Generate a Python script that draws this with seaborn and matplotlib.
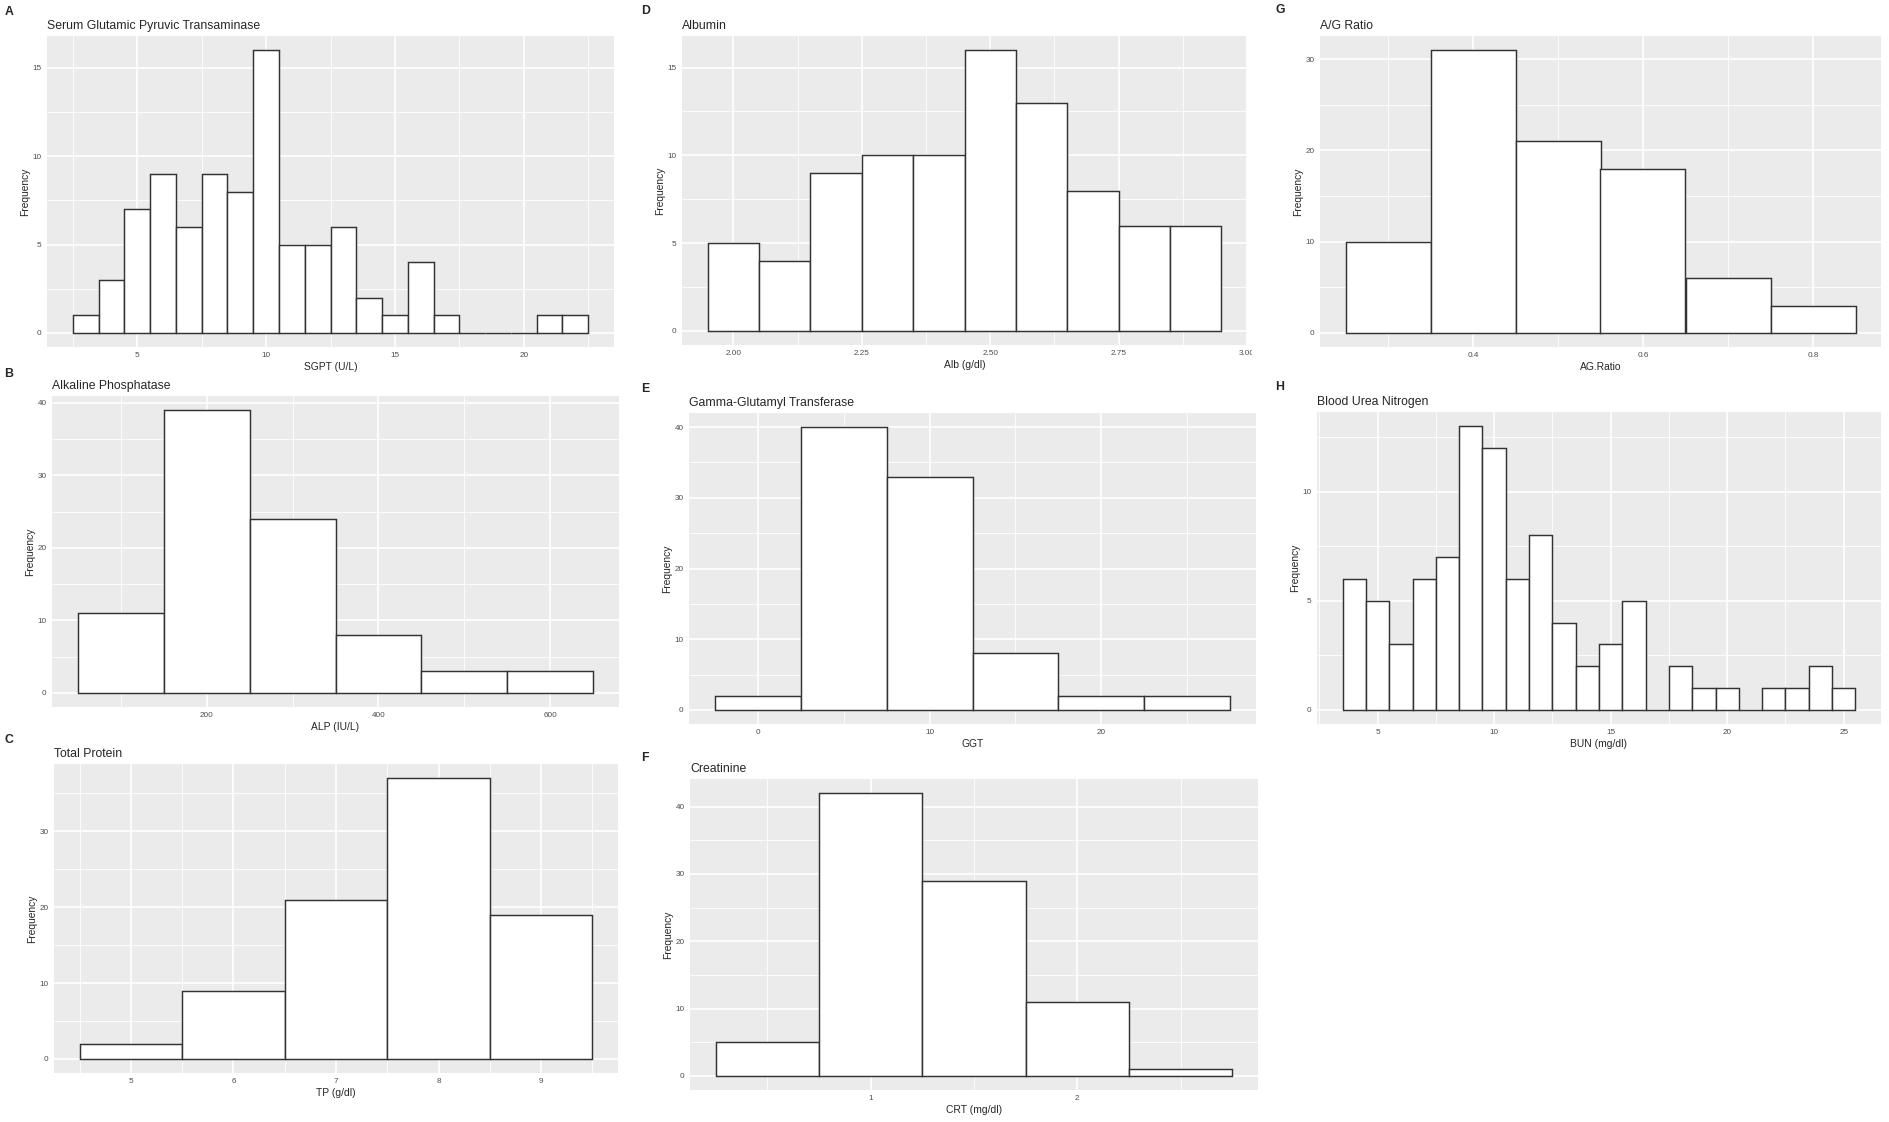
"""Eight-panel histogram grid of serum biochemistry values (ggplot-like look)."""

import matplotlib

matplotlib.use("Agg")

import matplotlib.pyplot as plt
import numpy as np
import pandas as pd
import seaborn as sns
from matplotlib.ticker import AutoMinorLocator, FormatStrFormatter, MultipleLocator
from matplotlib.transforms import Bbox, TransformedBbox

FIG_W, FIG_H = 1889, 1122

# bin centres and frequencies
SGPT_CENTERS = list(range(3, 23))
SGPT_COUNTS = [1, 3, 7, 9, 6, 9, 8, 16, 5, 5, 6, 2, 1, 4, 1, 0, 0, 0, 1, 1]

ALP_CENTERS = [100, 200, 300, 400, 500, 600]
ALP_COUNTS = [11, 39, 24, 8, 3, 3]

TP_CENTERS = [5, 6, 7, 8, 9]
TP_COUNTS = [2, 9, 21, 37, 19]

ALB_CENTERS = [2.0, 2.1, 2.2, 2.3, 2.4, 2.5, 2.6, 2.7, 2.8, 2.9]
ALB_COUNTS = [5, 4, 9, 10, 10, 16, 13, 8, 6, 6]

GGT_CENTERS = [0, 5, 10, 15, 20, 25]
GGT_COUNTS = [2, 40, 33, 8, 2, 2]

CRT_CENTERS = [0.5, 1.0, 1.5, 2.0, 2.5]
CRT_COUNTS = [5, 42, 29, 11, 1]

AG_CENTERS = [0.3, 0.4, 0.5, 0.6, 0.7, 0.8]
AG_COUNTS = [10, 31, 21, 18, 6, 3]

BUN_CENTERS = list(range(4, 26))
BUN_COUNTS = [6, 5, 3, 6, 7, 13, 12, 6, 8, 4, 2, 3, 5, 0, 2, 1, 1, 0, 1, 1, 2, 1]

PANELS = [
    dict(letter="A", title="Serum Glutamic Pyruvic Transaminase", xlabel="SGPT (U/L)",
         centers=SGPT_CENTERS, counts=SGPT_COUNTS, width=1, xstep=5, ystep=5, xfmt=None),
    dict(letter="B", title="Alkaline Phosphatase", xlabel="ALP (IU/L)",
         centers=ALP_CENTERS, counts=ALP_COUNTS, width=100, xstep=200, ystep=10, xfmt=None),
    dict(letter="C", title="Total Protein", xlabel="TP (g/dl)",
         centers=TP_CENTERS, counts=TP_COUNTS, width=1, xstep=1, ystep=10, xfmt=None),
    dict(letter="D", title="Albumin", xlabel="Alb (g/dl)",
         centers=ALB_CENTERS, counts=ALB_COUNTS, width=0.1, xstep=0.25, ystep=5, xfmt="%.2f"),
    dict(letter="E", title="Gamma-Glutamyl Transferase", xlabel="GGT",
         centers=GGT_CENTERS, counts=GGT_COUNTS, width=5, xstep=10, ystep=10, xfmt=None),
    dict(letter="F", title="Creatinine", xlabel="CRT (mg/dl)",
         centers=CRT_CENTERS, counts=CRT_COUNTS, width=0.5, xstep=1, ystep=10, xfmt=None),
    dict(letter="G", title="A/G Ratio", xlabel="AG.Ratio",
         centers=AG_CENTERS, counts=AG_COUNTS, width=0.1, xstep=0.2, ystep=10, xfmt=None),
    dict(letter="H", title="Blood Urea Nitrogen", xlabel="BUN (mg/dl)",
         centers=BUN_CENTERS, counts=BUN_COUNTS, width=1, xstep=5, ystep=5, xfmt=None),
]

# panel boxes (left, top, right, bottom) and letter anchors, in pixels
LAYOUT = {
    "A": ((47, 36, 614, 347), (9, 12)),
    "B": ((52, 396, 619, 707), (9, 374)),
    "C": ((54, 764, 618, 1073), (9, 740)),
    "D": ((682, 36, 1247, 345), (646, 11)),
    "E": ((689, 413, 1256, 724), (645, 389)),
    "F": ((690, 779, 1258, 1090), (645, 758)),
    "G": ((1320, 36, 1881, 347), (1280, 10)),
    "H": ((1317, 412, 1881, 724), (1280, 387)),
}

sns.set_style("darkgrid", rc={"axes.facecolor": "#EBEBEB", "grid.color": "white"})
plt.rcParams["font.family"] = ["Liberation Sans", "DejaVu Sans"]


def draw_panel(fig, spec):
    (x0, y0, x1, y1), (lx, ly) = LAYOUT[spec["letter"]]
    ax = fig.add_axes([x0 / FIG_W, 1 - y1 / FIG_H, (x1 - x0) / FIG_W, (y1 - y0) / FIG_H])
    centers = np.asarray(spec["centers"], dtype=float)
    width = spec["width"]
    edges = np.append(centers - width / 2, centers[-1] + width / 2)
    table = pd.DataFrame({"value": centers, "count": spec["counts"]})
    sns.histplot(data=table, x="value", weights="count", bins=edges.tolist(),
                 color="white", edgecolor="#333333", linewidth=1.05, alpha=1, ax=ax)

    span = edges[-1] - edges[0]
    top = max(spec["counts"])
    ax.set_xlim(edges[0] - 0.05 * span, edges[-1] + 0.05 * span)
    ax.set_ylim(-0.05 * top, 1.05 * top)
    ax.xaxis.set_major_locator(MultipleLocator(spec["xstep"]))
    ax.yaxis.set_major_locator(MultipleLocator(spec["ystep"]))
    ax.xaxis.set_minor_locator(AutoMinorLocator(2))
    ax.yaxis.set_minor_locator(AutoMinorLocator(2))
    if spec["xfmt"]:
        ax.xaxis.set_major_formatter(FormatStrFormatter(spec["xfmt"]))

    ax.set_axisbelow(True)
    ax.grid(which="major", color="white", linewidth=1.2)
    ax.grid(which="minor", color="white", linewidth=0.6)
    for side in ax.spines.values():
        side.set_visible(False)
    ax.tick_params(which="major", length=2.3, width=0.8, color="#333333",
                   labelsize=5.9, labelcolor="#4D4D4D", pad=1.5)
    ax.tick_params(which="minor", length=0)

    ax.set_title(spec["title"], loc="left", fontsize=8.8, pad=5)
    ax.set_xlabel(spec["xlabel"], fontsize=7.4, labelpad=2)
    ax.set_ylabel("Frequency", fontsize=7.4, labelpad=2)
    fig.text(lx / FIG_W, 1 - ly / FIG_H, spec["letter"], fontsize=8.8,
             fontweight="bold", ha="center", va="center")
    return ax


fig = plt.figure(figsize=(FIG_W / 100, FIG_H / 100), dpi=100)
axes = {spec["letter"]: draw_panel(fig, spec) for spec in PANELS}

# the last Albumin tick label runs into the neighbouring cell and is cut there
fig.canvas.draw()
cell = TransformedBbox(Bbox.from_extents(0, 0, 1252 / FIG_W, 1), fig.transFigure)
for label in axes["D"].get_xticklabels():
    label.set_clip_box(cell)
    label.set_clip_on(True)

fig.savefig("out.png", dpi=100)
